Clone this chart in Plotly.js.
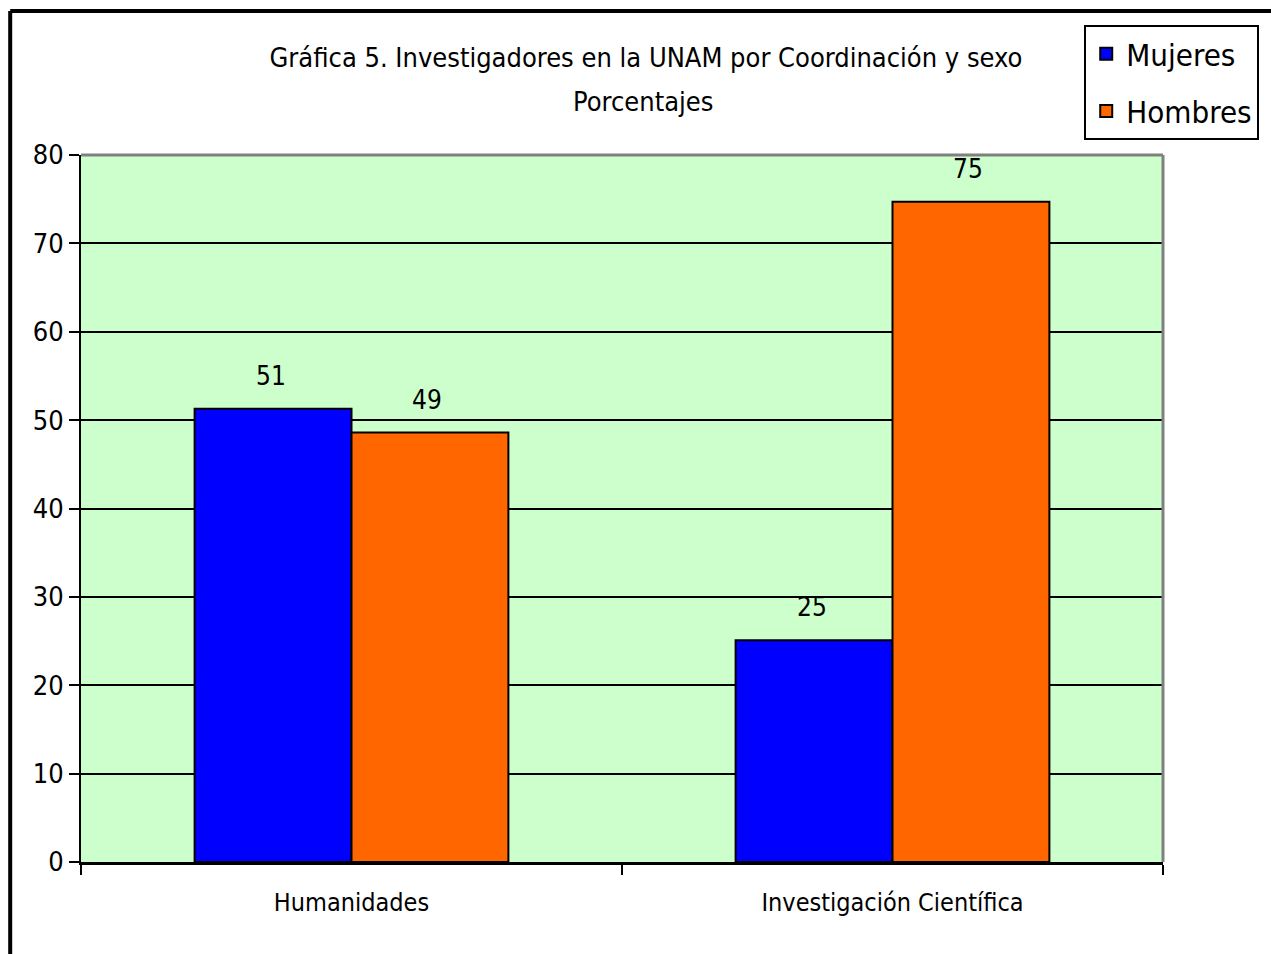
<!DOCTYPE html>
<html>
<head>
<meta charset="utf-8">
<script src="https://cdn.plot.ly/plotly-3.0.1.min.js"></script>
<style>
  html, body { margin: 0; padding: 0; background: #ffffff; }
  #chart { width: 1271px; height: 954px; }
</style>
</head>
<body>
<div id="chart"></div>
<script>
// ---- Data ----
const categories = ["Humanidades", "Investigación Científica"];
const seriesNames = ["Mujeres", "Hombres"];
const mujeres = [51.3, 25.1];
const hombres = [48.6, 74.7];
const yTickValues = [0, 10, 20, 30, 40, 50, 60, 70, 80];
const titleLine1 = "Gráfica 5. Investigadores en la UNAM por Coordinación y sexo";
const titleLine2 = "Porcentajes";

const FONT = "'DejaVu Sans Condensed', 'Liberation Sans Narrow', 'Liberation Sans', Arial, sans-serif";
const colors = ["#0000FF", "#FF6600"];
const seriesValues = [mujeres, hombres];

const traces = seriesValues.map((vals, i) => ({
  type: "bar",
  name: seriesNames[i],
  x: categories,
  y: vals,
  legendgroup: "g" + i,
  marker: { color: colors[i], line: { color: "#000000", width: 2 } },
  hoverinfo: "x+y+name"
}));

// value labels above bars
const shifts = [-81, 75];
const annotations = [];
seriesValues.forEach((vals, i) => {
  vals.forEach((v, j) => {
    annotations.push({
      x: categories[j], y: v, xref: "x", yref: "y",
      text: String(Math.round(v)),
      showarrow: false, xshift: shifts[i], yshift: 33,
      font: { family: FONT, size: 26, color: "#000000" }
    });
  });
});
// second title line
annotations.push({
  xref: "paper", yref: "paper",
  x: (645 - 81) / 1085, y: (862 - 102) / 707,
  xanchor: "center", yanchor: "middle",
  text: titleLine2, showarrow: false,
  font: { family: FONT, size: 27, color: "#000000" }
});

const layout = {
  width: 1271, height: 954,
  paper_bgcolor: "#ffffff",
  plot_bgcolor: "#CCFFCC",
  margin: { l: 81, r: 105, t: 155, b: 92 },
  font: { family: FONT, color: "#000000" },
  title: {
    text: titleLine1,
    x: 646 / 1271, xanchor: "center",
    xref: "container", yref: "container",
    y: 1 - 58 / 954, yanchor: "middle",
    font: { family: FONT, size: 27, color: "#000000" }
  },
  barmode: "group",
  bargap: 0.42,
  bargroupgap: 0,
  showlegend: true,
  legend: {
    x: (1087 - 81) / 1085, xanchor: "left",
    y: (862 - 25) / 707, yanchor: "top",
    bgcolor: "#ffffff",
    bordercolor: "#000000", borderwidth: 2,
    font: { family: FONT, size: 31, color: "#000000" },
    tracegroupgap: 14,
    traceorder: "grouped",
    itemclick: false
  },
  xaxis: {
    type: "category",
    showline: true, linecolor: "#000000", linewidth: 3,
    ticks: "outside", tickson: "boundaries", ticklen: 10, tickwidth: 2, tickcolor: "#000000",
    showgrid: false, zeroline: false,
    ticklabelstandoff: 16,
    tickfont: { family: FONT, size: 25, color: "#000000" },
    fixedrange: true
  },
  yaxis: {
    range: [0, 80],
    tickvals: yTickValues,
    ticktext: yTickValues.map(String),
    showline: true, linecolor: "#000000", linewidth: 2,
    ticks: "outside", ticklen: 10, tickwidth: 2, tickcolor: "#000000",
    showgrid: true, gridcolor: "#000000", gridwidth: 2,
    zeroline: false,
    tickfont: { family: FONT, size: 27, color: "#000000" },
    fixedrange: true
  },
  annotations: annotations,
  shapes: [
    // outer chart border (runs off to the right and bottom)
    { type: "line", xref: "paper", yref: "paper",
      x0: (10 - 81) / 1085, x1: (10 - 81) / 1085, y0: (862 - 11) / 707, y1: (862 - 960) / 707,
      line: { color: "#000000", width: 4 } },
    { type: "line", xref: "paper", yref: "paper",
      x0: (10 - 81) / 1085, x1: (1280 - 81) / 1085, y0: (862 - 11) / 707, y1: (862 - 11) / 707,
      line: { color: "#000000", width: 4 } },
    // plot area top and right border (gray)
    { type: "line", xref: "paper", yref: "paper", x0: 0, x1: 1, y0: 1, y1: 1,
      line: { color: "#808080", width: 3 } },
    { type: "line", xref: "paper", yref: "paper", x0: 1, x1: 1, y0: 0, y1: 1,
      line: { color: "#808080", width: 3 } }
  ]
};

Plotly.newPlot("chart", traces, layout, { displayModeBar: false });
</script>
</body>
</html>
